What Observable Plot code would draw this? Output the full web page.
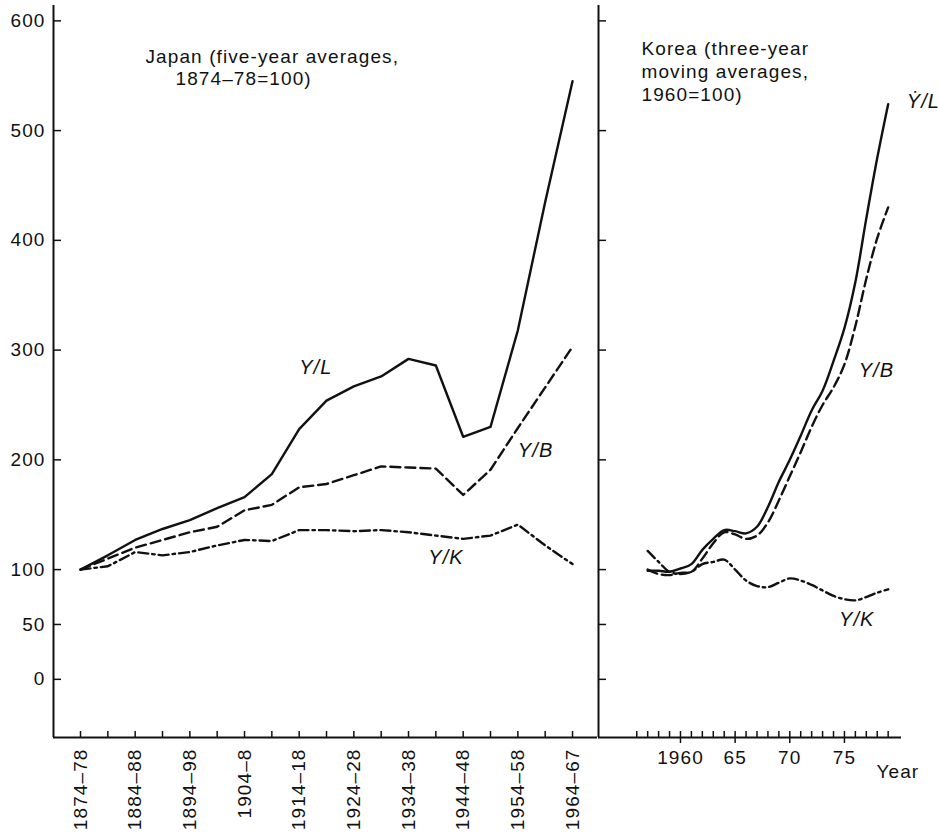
<!DOCTYPE html>
<html><head><meta charset="utf-8">
<script src="https://cdn.jsdelivr.net/npm/d3@7"></script>
<script src="https://cdn.jsdelivr.net/npm/@observablehq/plot@0.6"></script>
<style>
body{margin:0;background:#fff;}
#chart{display:flex;width:939px;height:832px;}
#chart svg{max-width:none;flex:none;}
</style></head><body><div id="chart"></div>
<script>
// ---------- data ----------
const japanPeriods = ["1874–78","1879–83","1884–88","1889–93","1894–98","1899–1903","1904–8","1909–13","1914–18","1919–23","1924–28","1929–33","1934–38","1939–43","1944–48","1949–53","1954–58","1959–63","1964–67"];
const japanYL = [100,113,127,137,145,156,166,187,228,254,267,276,292,286,221,230,318,435,545];
const japanYB = [100,110,120,127,134,139,154,159,175,178,186,194,193,192,168,191,229,266,303];
const japanYK = [100,103,116,113,116,122,127,126,136,136,135,136,134,131,128,131,141,122,105];
const japanLabelledPeriods = ["1874–78","1884–88","1894–98","1904–8","1914–18","1924–28","1934–38","1944–48","1954–58","1964–67"];

const koreaYears = [1957,1958,1959,1960,1961,1962,1963,1964,1965,1966,1967,1968,1969,1970,1971,1972,1973,1974,1975,1976,1977,1978,1979];
const koreaYL = [99,99,98,101,105,118,128,136,135,133,139,157,180,200,222,245,263,290,320,362,420,475,524];
const koreaYB = [100,96,95,97,98,110,124,134,132,128,131,143,163,185,207,230,250,266,287,322,365,402,430];
const koreaYK = [117,107,98,96,98,105,107,109,100,90,85,84,88,92,90,86,81,76,73,72,75,79,82];
const koreaMinorTicks = [1956,1957,1958,1959,1960,1961,1962,1963,1964,1965,1966,1967,1968,1969,1970,1971,1972,1973,1974,1975,1976,1977,1978,1979];
const koreaMajorTicks = [1960,1965,1970,1975];

const yTicks = [0,50,100,200,300,400,500,600];
const series = ["Y/L","Y/B","Y/K"];
const japanTitle = ["Japan (five-year averages,","1874–78=100)"];
const koreaTitle = ["Korea (three-year","moving averages,","1960=100)"];
const japanSeriesLabels = [{text:"Y/L", x:1916, y:284},{text:"Y/B", x:1956, y:208},{text:"Y/K", x:1939.6, y:111}];
const koreaSeriesLabels = [{text:"Ẏ/L", x:1980.7, y:526},{text:"Y/B", x:1976.3, y:281},{text:"Y/K", x:1974.5, y:54}];

// ---------- layout / style ----------
const yDomain = [-53, 614];
const japanXDomain = [1871.06, 1970.57];
const koreaXDomain = [1952.5, 1980.22];
const dash = {"Y/L": null, "Y/B": "10,5", "Y/K": "10,4,2.5,4"};
const ink = "#111";
const H = 832, MT = 5, MB = 95;
const frameH = H - MT - MB;
const font = {fontSize: "19px", fontFamily: "'Liberation Sans', Arial, Helvetica, sans-serif", letterSpacing: "1.1px", background: "#fff", color: ink};

const mid = p => +p.slice(0, 4) + 2;
const japanRows = japanPeriods.flatMap((p, i) => [
  {x: mid(p), v: japanYL[i], s: "Y/L"},
  {x: mid(p), v: japanYB[i], s: "Y/B"},
  {x: mid(p), v: japanYK[i], s: "Y/K"}]);
const koreaRows = koreaYears.flatMap((yr, i) => [
  {x: yr, v: koreaYL[i], s: "Y/L"},
  {x: yr, v: koreaYB[i], s: "Y/B"},
  {x: yr, v: koreaYK[i], s: "Y/K"}]);
const labelOf = new Map(japanPeriods.map(p => [mid(p), p]));

const lines = (rows, curve) => series.map(s => Plot.line(rows.filter(r => r.s === s), {
  x: "x", y: "v", stroke: ink, strokeWidth: 2.4, strokeDasharray: dash[s], curve
}));

// ---------- Japan panel ----------
const JW = 597, JML = 53;
const japan = Plot.plot({
  width: JW, height: H, marginLeft: JML, marginRight: 0, marginTop: MT, marginBottom: MB,
  style: font,
  x: {type: "linear", domain: japanXDomain},
  y: {type: "linear", domain: yDomain},
  marks: [
    Plot.ruleX(japanXDomain.slice(0, 1), {stroke: ink, strokeWidth: 2}),
    Plot.ruleY(yDomain.slice(0, 1), {stroke: ink, strokeWidth: 2.2}),
    Plot.ruleY(yTicks, {stroke: ink, strokeWidth: 1.5, insetRight: (JW - JML) - 8}),
    Plot.ruleX(japanPeriods.map(mid), {stroke: ink, strokeWidth: 1.5, insetTop: frameH - 6}),
    Plot.axisY(yTicks, {tickSize: 0, tickPadding: 8, label: null}),
    Plot.axisX(japanLabelledPeriods.map(mid), {tickSize: 0, tickPadding: 11, tickRotate: -90,
      textAnchor: "end", lineAnchor: "middle", tickFormat: d => labelOf.get(d), label: null}),
    ...lines(japanRows, "linear"),
    Plot.text(japanTitle.slice(0, 1), {text: d => d, frameAnchor: "top-left", dx: 92, dy: 44, textAnchor: "start", lineAnchor: "top"}),
    Plot.text(japanTitle.slice(1), {text: d => d, frameAnchor: "top-left", dx: 122, dy: 66, textAnchor: "start", lineAnchor: "top"}),
    Plot.text(japanSeriesLabels, {x: "x", y: "y", text: "text", textAnchor: "start", fontStyle: "italic", fontSize: 20})
  ]
});

// ---------- Korea panel ----------
const KW = 343, KML = 1, KMR = 39;
const korea = Plot.plot({
  width: KW, height: H, marginLeft: KML, marginRight: KMR, marginTop: MT, marginBottom: MB,
  style: font,
  x: {type: "linear", domain: koreaXDomain},
  y: {type: "linear", domain: yDomain, axis: null},
  marks: [
    Plot.ruleX(koreaXDomain.slice(0, 1), {stroke: ink, strokeWidth: 2}),
    Plot.ruleY(yDomain.slice(0, 1), {stroke: ink, strokeWidth: 2.2}),
    Plot.ruleY(yTicks, {stroke: ink, strokeWidth: 1.5, insetRight: (KW - KML - KMR) - 8}),
    Plot.ruleX(koreaMinorTicks, {stroke: ink, strokeWidth: 1.5, insetTop: frameH - 6}),
    Plot.axisX(koreaMajorTicks, {tickSize: 6, tickPadding: 7, strokeWidth: 1.5, stroke: ink,
      tickFormat: d => d === 1960 ? "1960" : String(d % 100), label: null}),
    ...lines(koreaRows, "catmull-rom"),
    ...koreaTitle.map((t, i) => Plot.text([t], {text: d => d, frameAnchor: "top-left", dx: 43, dy: 36 + 23 * i, textAnchor: "start", lineAnchor: "top"})),
    Plot.text(["Year"], {text: d => d, frameAnchor: "bottom-right", dx: -25, dy: 27, textAnchor: "start", lineAnchor: "top"}),
    Plot.text(koreaSeriesLabels, {x: "x", y: "y", text: "text", textAnchor: "start", fontStyle: "italic", fontSize: 20})
  ]
});

document.getElementById("chart").append(japan, korea);
</script></body></html>
